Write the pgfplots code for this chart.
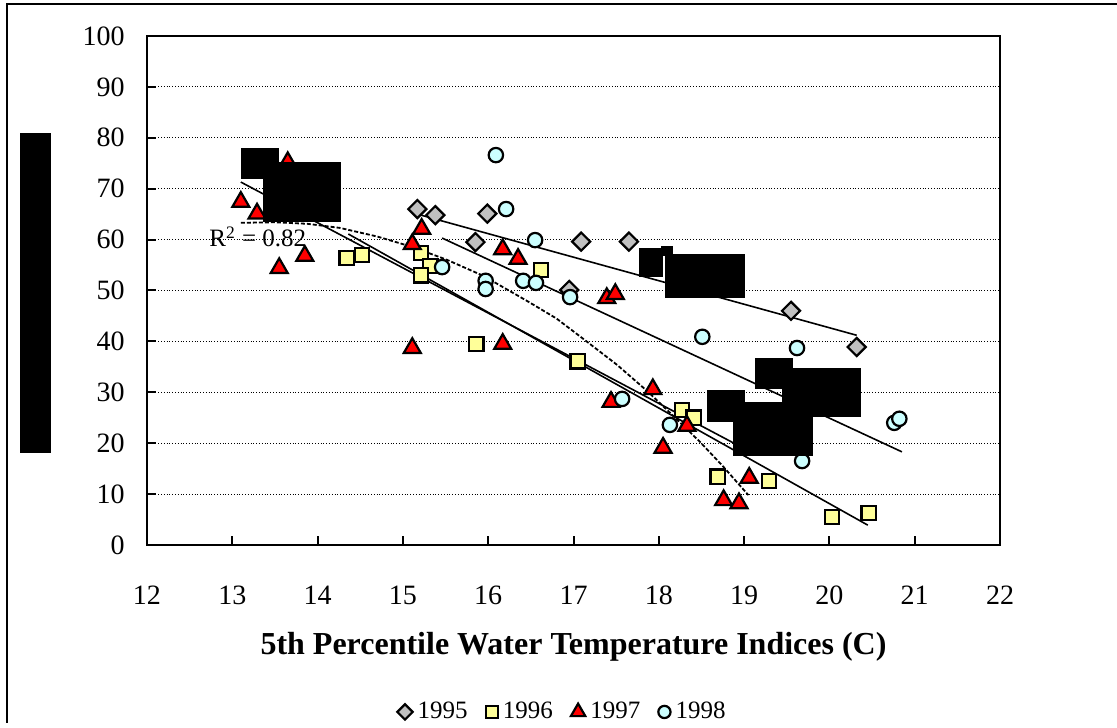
\documentclass[border=0pt]{standalone}
\usepackage{pgfplots}
\pgfplotsset{compat=1.18}
\usepackage{fontspec}
\setmainfont{Liberation Serif}

\definecolor{c95}{RGB}{192,192,192}
\definecolor{c96}{RGB}{255,255,153}
\definecolor{c97}{RGB}{255,0,0}
\definecolor{c98}{RGB}{204,255,255}

\begin{document}
\begin{tikzpicture}
% pixel grid of the reference: 1 px = 0.5pt, axis origin at px (147,545)
\begin{scope}[x=0.5pt,y=-0.5pt,shift={(-73.5pt,272.5pt)}]
  \useasboundingbox (0,0) rectangle (1117,723);
  \draw[line width=1pt] (7,723) -- (7,4) -- (1117,4);
\end{scope}

\begin{axis}[
    at={(0,0)}, anchor=south west,
    scale only axis,
    width=426.5pt, height=254.5pt,
    xmin=12, xmax=22, ymin=0, ymax=100,
    xtick={12,...,22},
    ytick={0,10,...,100},
    tick pos=left,
    tick align=inside,
    major tick length=4.5pt,
    axis line style={line width=1pt},
    tick style={line width=1pt, black},
    ymajorgrids,
    major grid style={densely dotted, line width=0.5pt, black},
    /pgf/number format/assume math mode=true,
    ticklabel style={font=\fontsize{14}{16}\selectfont, inner sep=0pt},
    xticklabel style={anchor=base, yshift=-30pt},
    yticklabel style={anchor=east, xshift=-11pt},
    xlabel={5th Percentile Water Temperature Indices (C)},
    xlabel style={at={(axis description cs:0.5,-0.2161)}, anchor=base,
                  font=\bfseries\fontsize{16}{19}\selectfont, inner sep=0pt},
    legend style={at={(0.487,-0.328)}, anchor=center, draw=none, fill=none,
                  font=\fontsize{12.5}{14}\selectfont,
                  nodes={inner sep=1pt},
                  /tikz/every odd column/.append style={column sep=1.5pt},
                  /tikz/every even column/.append style={column sep=8pt}},
    legend columns=4,
    legend image code/.code={\draw[#1, every mark/.append style={scale=0.85}] plot coordinates {(0cm,0cm)};},
]

% 1995
\addplot[only marks, mark=square*, draw=black, fill=c95, mark size=3.2pt,
         mark options={rotate=45, line width=1.1pt}] coordinates {
  (15.17,66.0) (15.38,64.8) (15.85,59.5) (15.99,65.1) (16.95,50.1)
  (17.09,59.6) (17.65,59.6) (19.55,46.0) (20.32,38.9)
};
% 1996
\addplot[only marks, mark=square*, draw=black, fill=c96, mark size=3.6pt,
         mark options={line width=1.1pt}] coordinates {
  (14.34,56.4) (14.52,57.0) (15.21,57.4) (15.32,54.8) (15.21,53.0)
  (15.86,39.5) (16.62,54.0) (17.05,36.1) (18.27,26.5) (18.41,25.0)
  (18.69,13.4) (19.29,12.6) (20.03,5.5) (20.46,6.3)
};
% 1997
\addplot[only marks, mark=triangle*, draw=black, fill=c97, mark size=4.9pt,
         mark options={line width=1.1pt}] coordinates {
  (13.10,67.4) (13.29,65.1) (13.65,75.2) (13.55,54.4) (13.85,56.8)
  (15.11,59.1) (15.22,62.1) (15.11,38.7) (16.17,58.1) (16.35,56.2)
  (16.17,39.5) (17.39,48.5) (17.49,49.3) (17.44,28.1) (17.93,30.6)
  (18.33,23.4) (18.05,19.1) (19.06,13.2) (18.76,8.8) (18.94,8.2)
};
% 1998
\addplot[only marks, mark=*, draw=black, fill=c98, mark size=3.6pt,
         mark options={line width=1.1pt}] coordinates {
  (15.46,54.6) (15.97,51.9) (15.97,50.3) (16.09,76.6) (16.21,66.0)
  (16.41,51.9) (16.55,59.9) (16.56,51.5) (16.96,48.7) (17.57,28.7)
  (18.13,23.6) (18.51,40.9) (19.62,38.7) (19.68,16.5) (20.76,24.0)
  (20.82,24.8)
};
\legend{1995,1996,1997,1998}

% trend lines
\addplot[black, line width=0.8pt, forget plot] coordinates {(15.17,65.0) (20.32,41.2)};
\addplot[black, line width=0.8pt, forget plot] coordinates {(14.36,61.1) (20.45,3.9)};
\addplot[black, line width=0.8pt, forget plot] coordinates {(13.10,71.3) (19.05,18.5)};
\addplot[black, line width=0.8pt, forget plot] coordinates {(15.46,60.3) (20.85,18.3)};
% polynomial fit (dotted)
\addplot[black, line width=0.9pt, dash pattern=on 2pt off 1pt, forget plot] coordinates {
  (13.10,63.3) (13.50,63.4) (13.88,63.1) (14.26,62.3) (14.70,60.6)
  (15.12,58.5) (15.52,56.0) (15.94,52.9) (16.45,48.0) (16.80,44.5)
  (17.13,40.3) (17.51,35.4) (17.86,30.3) (18.13,26.0) (18.48,20.3)
  (18.75,15.5) (19.05,9.8)
};
\end{axis}

\begin{scope}[x=0.5pt,y=-0.5pt,shift={(-73.5pt,272.5pt)}]
  \node[anchor=base west, inner sep=0pt, font=\fontsize{12.5}{15}\selectfont]
    at (209,247) {R\textsuperscript{2} = 0.82};
  \fill[black] (20,133) rectangle (51,453);
  \fill[black] (241,148) rectangle (270,179);
  \fill[black] (241,148) rectangle (279,162);
  \fill[black] (263,162) rectangle (341,222);
  \fill[black] (639,248) rectangle (663,277);
  \fill[black] (661,246) rectangle (673,256);
  \fill[black] (665,254) rectangle (745,298);
  \fill[black] (755,358) rectangle (793,389);
  \fill[black] (782,368) rectangle (861,417);
  \fill[black] (707,390) rectangle (745,422);
  \fill[black] (733,402) rectangle (813,456);
\end{scope}
\end{tikzpicture}
\end{document}
